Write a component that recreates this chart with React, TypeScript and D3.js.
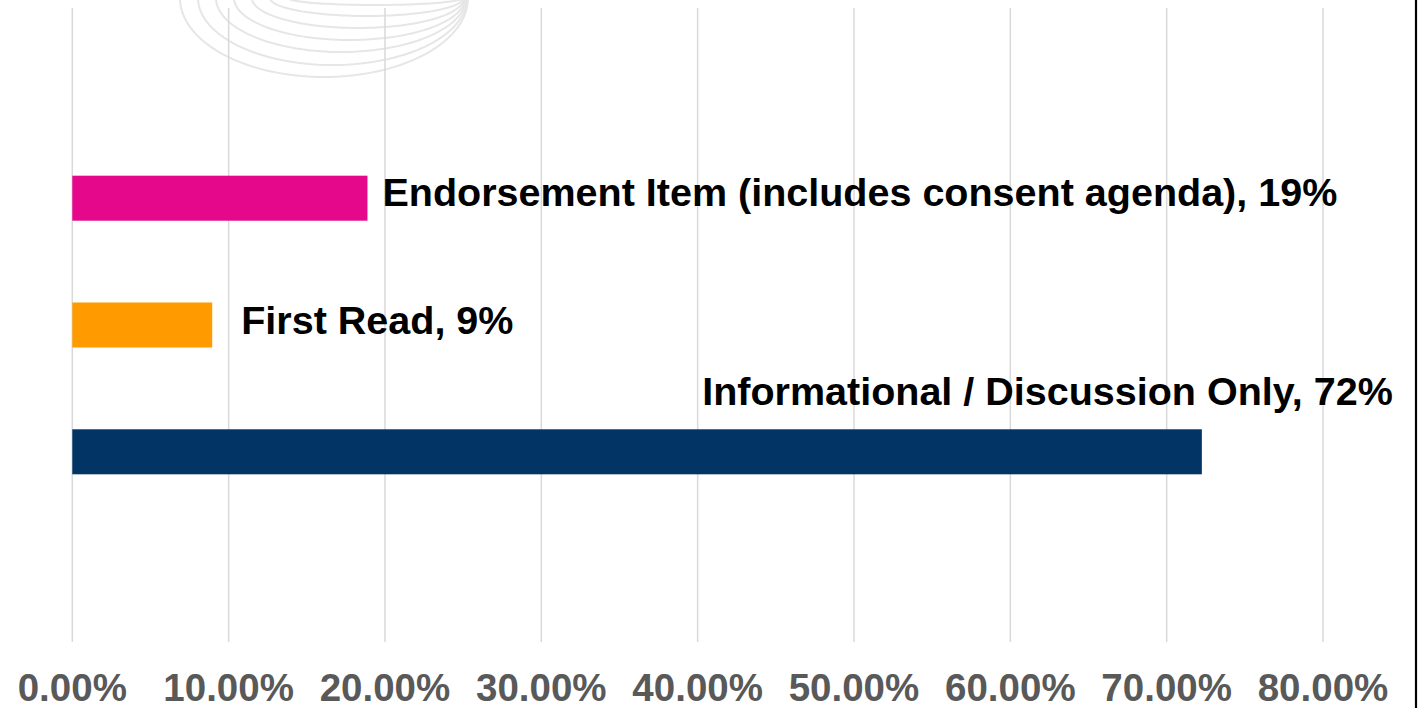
import React from "react";
import * as d3 from "d3";

const categories = ["Endorsement Item (includes consent agenda)", "First Read", "Informational / Discussion Only"];
const values = [0.1888, 0.0895, 0.7225];
const labelTexts = ["Endorsement Item (includes consent agenda), 19%", "First Read, 9%", "Informational / Discussion Only, 72%"];
const colors = ["#E6088A", "#FF9B00", "#023466"];
const tickValues = [0, 0.1, 0.2, 0.3, 0.4, 0.5, 0.6, 0.7, 0.8];
const arcBottoms = [77, 65, 52, 40, 28, 16, 5];

const W = 1420;
const H = 708;
const FONT = "'Liberation Sans', Arial, sans-serif";

export default function App() {
  const x = d3.scaleLinear().domain([0, 0.8]).range([72.3, 1323]);
  const y = d3.scaleBand<string>().domain(categories).range([8, 642]).paddingInner(0.645).paddingOuter(1.3225);
  const fmt = d3.format(".2%");

  const labelPos = [
    { dx: 15, anchor: "start", base: (c: string) => y(c)! + y.bandwidth() / 2 + 8 },
    { dx: 29, anchor: "start", base: (c: string) => y(c)! + y.bandwidth() / 2 + 9 },
    { dx: 191, anchor: "end", base: (c: string) => y(c)! - 24 },
  ];

  const arcs = arcBottoms.map((b, i) => {
    const xl = 180 + i * 18;
    const xr = 468 - i;
    const rx = (xr - xl) / 2;
    const cx = xl + rx;
    const p = d3.path();
    p.moveTo(xl, -2);
    const pts = d3.range(0, 61).map((k) => {
      const a = Math.PI - (k / 60) * Math.PI;
      return [cx + rx * Math.cos(a), -2 + (b + 2) * Math.sin(a)] as [number, number];
    });
    return d3.line()(pts) as string;
  });

  return (
    <svg width={W} height={H} style={{ position: "absolute", left: 0, top: 0, background: "#fff" }}>
      <rect x={0} y={0} width={W} height={H} fill="#fff" />
      <g fill="none" stroke="#e6e6e6" strokeWidth={2}>
        {arcs.map((d, i) => (
          <path key={i} d={d} />
        ))}
      </g>
      <g>
        {tickValues.map((t) => (
          <line key={t} x1={x(t)} x2={x(t)} y1={8} y2={642} stroke="#D9D9D9" strokeWidth={1.5} />
        ))}
      </g>
      <g>
        {categories.map((c, i) => (
          <rect key={c} x={x(0)} y={y(c)} width={x(values[i]) - x(0)} height={y.bandwidth()} fill={colors[i]} />
        ))}
      </g>
      <g fontFamily={FONT} fontWeight="bold" fontSize={39.5} fill="#000">
        {categories.map((c, i) => (
          <text key={c} x={x(values[i]) + labelPos[i].dx} y={labelPos[i].base(c)} textAnchor={labelPos[i].anchor}>
            {labelTexts[i]}
          </text>
        ))}
      </g>
      <g fontFamily={FONT} fontWeight="bold" fontSize={38.5} fill="#595959">
        {tickValues.map((t) => (
          <text key={t} x={x(t)} y={701} textAnchor="middle">
            {fmt(t)}
          </text>
        ))}
      </g>
      <line x1={1416} x2={1416} y1={0} y2={H} stroke="#000" strokeWidth={2.2} />
    </svg>
  );
}
